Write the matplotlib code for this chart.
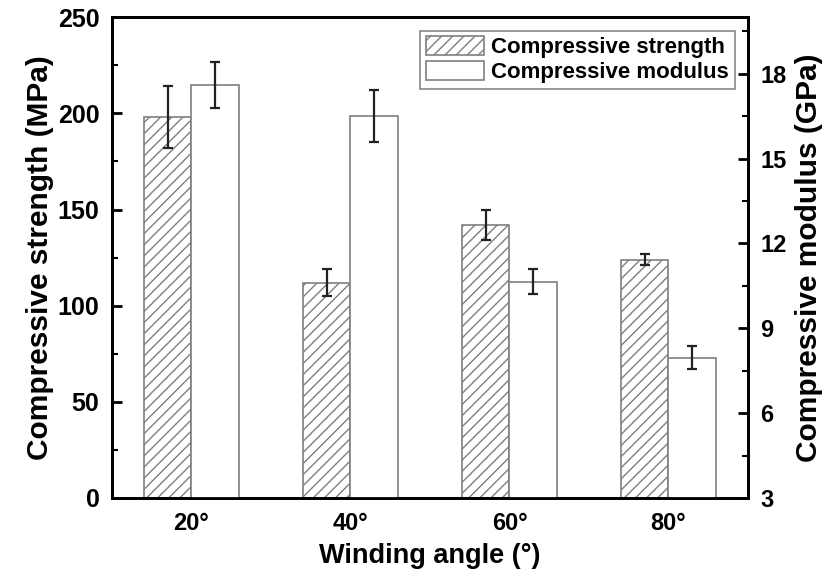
import matplotlib
matplotlib.use("Agg")
import matplotlib.pyplot as plt
from matplotlib.ticker import MultipleLocator
import numpy as np

plt.rcParams['font.family'] = ['Liberation Sans', 'DejaVu Sans']
plt.rcParams['font.weight'] = 'bold'
plt.rcParams['hatch.linewidth'] = 1.0

angles = ['20°', '40°', '60°', '80°']
strength = [198, 112, 142, 124]
strength_err = [16, 7, 8, 2.7]
modulus = [17.6, 16.5, 10.65, 7.96]
modulus_err = [0.8, 0.92, 0.44, 0.41]

fontsize = 19.5
ylabelsize = 21.5
ticksize = 18
width = 0.3
edge = '#7f7f7f'

fig = plt.figure(figsize=(8.32, 5.75), dpi=100)
ax = fig.add_axes([0.1346, 0.134, 0.899 - 0.1346, 0.836])
ax2 = ax.twinx()

x = np.arange(1, len(angles) + 1)

b1 = ax.bar(x - width / 2, strength, width, color='white', edgecolor=edge,
            hatch='///', linewidth=1.2, zorder=2)
ax.errorbar(x - width / 2, strength, yerr=strength_err, fmt='none',
            ecolor='#222222', elinewidth=1.6, capsize=3.5, capthick=1.6, zorder=3)

b2 = ax2.bar(x + width / 2, modulus, width, color='white', edgecolor=edge,
             linewidth=1.2, zorder=2)
ax2.errorbar(x + width / 2, modulus, yerr=modulus_err, fmt='none',
             ecolor='#222222', elinewidth=1.6, capsize=3.5, capthick=1.6, zorder=3)

ax.set_xlim(0.5, 4.5)
ax.set_ylim(0, 250)
ax2.set_ylim(3, 20)

ax.set_xticks(x)
ax.set_xticklabels(angles, fontsize=17, fontweight='bold')
ax.tick_params(axis='x', length=0, pad=10)

ax.yaxis.set_major_locator(MultipleLocator(50))
ax.yaxis.set_minor_locator(MultipleLocator(25))
ax2.yaxis.set_major_locator(MultipleLocator(3))
ax2.yaxis.set_minor_locator(MultipleLocator(1.5))

ax.tick_params(axis='y', which='major', direction='in', length=7, width=2,
               labelsize=ticksize, pad=9)
ax.tick_params(axis='y', which='minor', direction='in', length=4, width=1.5)
ax2.tick_params(axis='y', which='major', direction='in', length=7, width=2,
                labelsize=17, pad=9)
ax2.tick_params(axis='y', which='minor', direction='in', length=4, width=1.5)

for a in (ax, ax2):
    for s in a.spines.values():
        s.set_linewidth(2)
        s.set_color('black')

ax.set_xlabel('Winding angle (°)', fontsize=fontsize, fontweight='bold', labelpad=6)
ax.set_ylabel('Compressive strength (MPa)', fontsize=ylabelsize, fontweight='bold', labelpad=3)
ax2.set_ylabel('Compressive modulus (GPa)', fontsize=ylabelsize, fontweight='bold', labelpad=6)

leg = ax2.legend([b1, b2], ['Compressive strength', 'Compressive modulus'],
                 loc='upper right', fontsize=16, fancybox=False, framealpha=1,
                 handlelength=2.6, handleheight=0.9, handletextpad=0.35,
                 borderpad=0.25, labelspacing=0.15, borderaxespad=0.6)
leg.get_frame().set_edgecolor('#888888')
leg.get_frame().set_linewidth(1.2)
for t in leg.get_texts():
    t.set_fontweight('bold')

fig.savefig('out.png', dpi=100)
